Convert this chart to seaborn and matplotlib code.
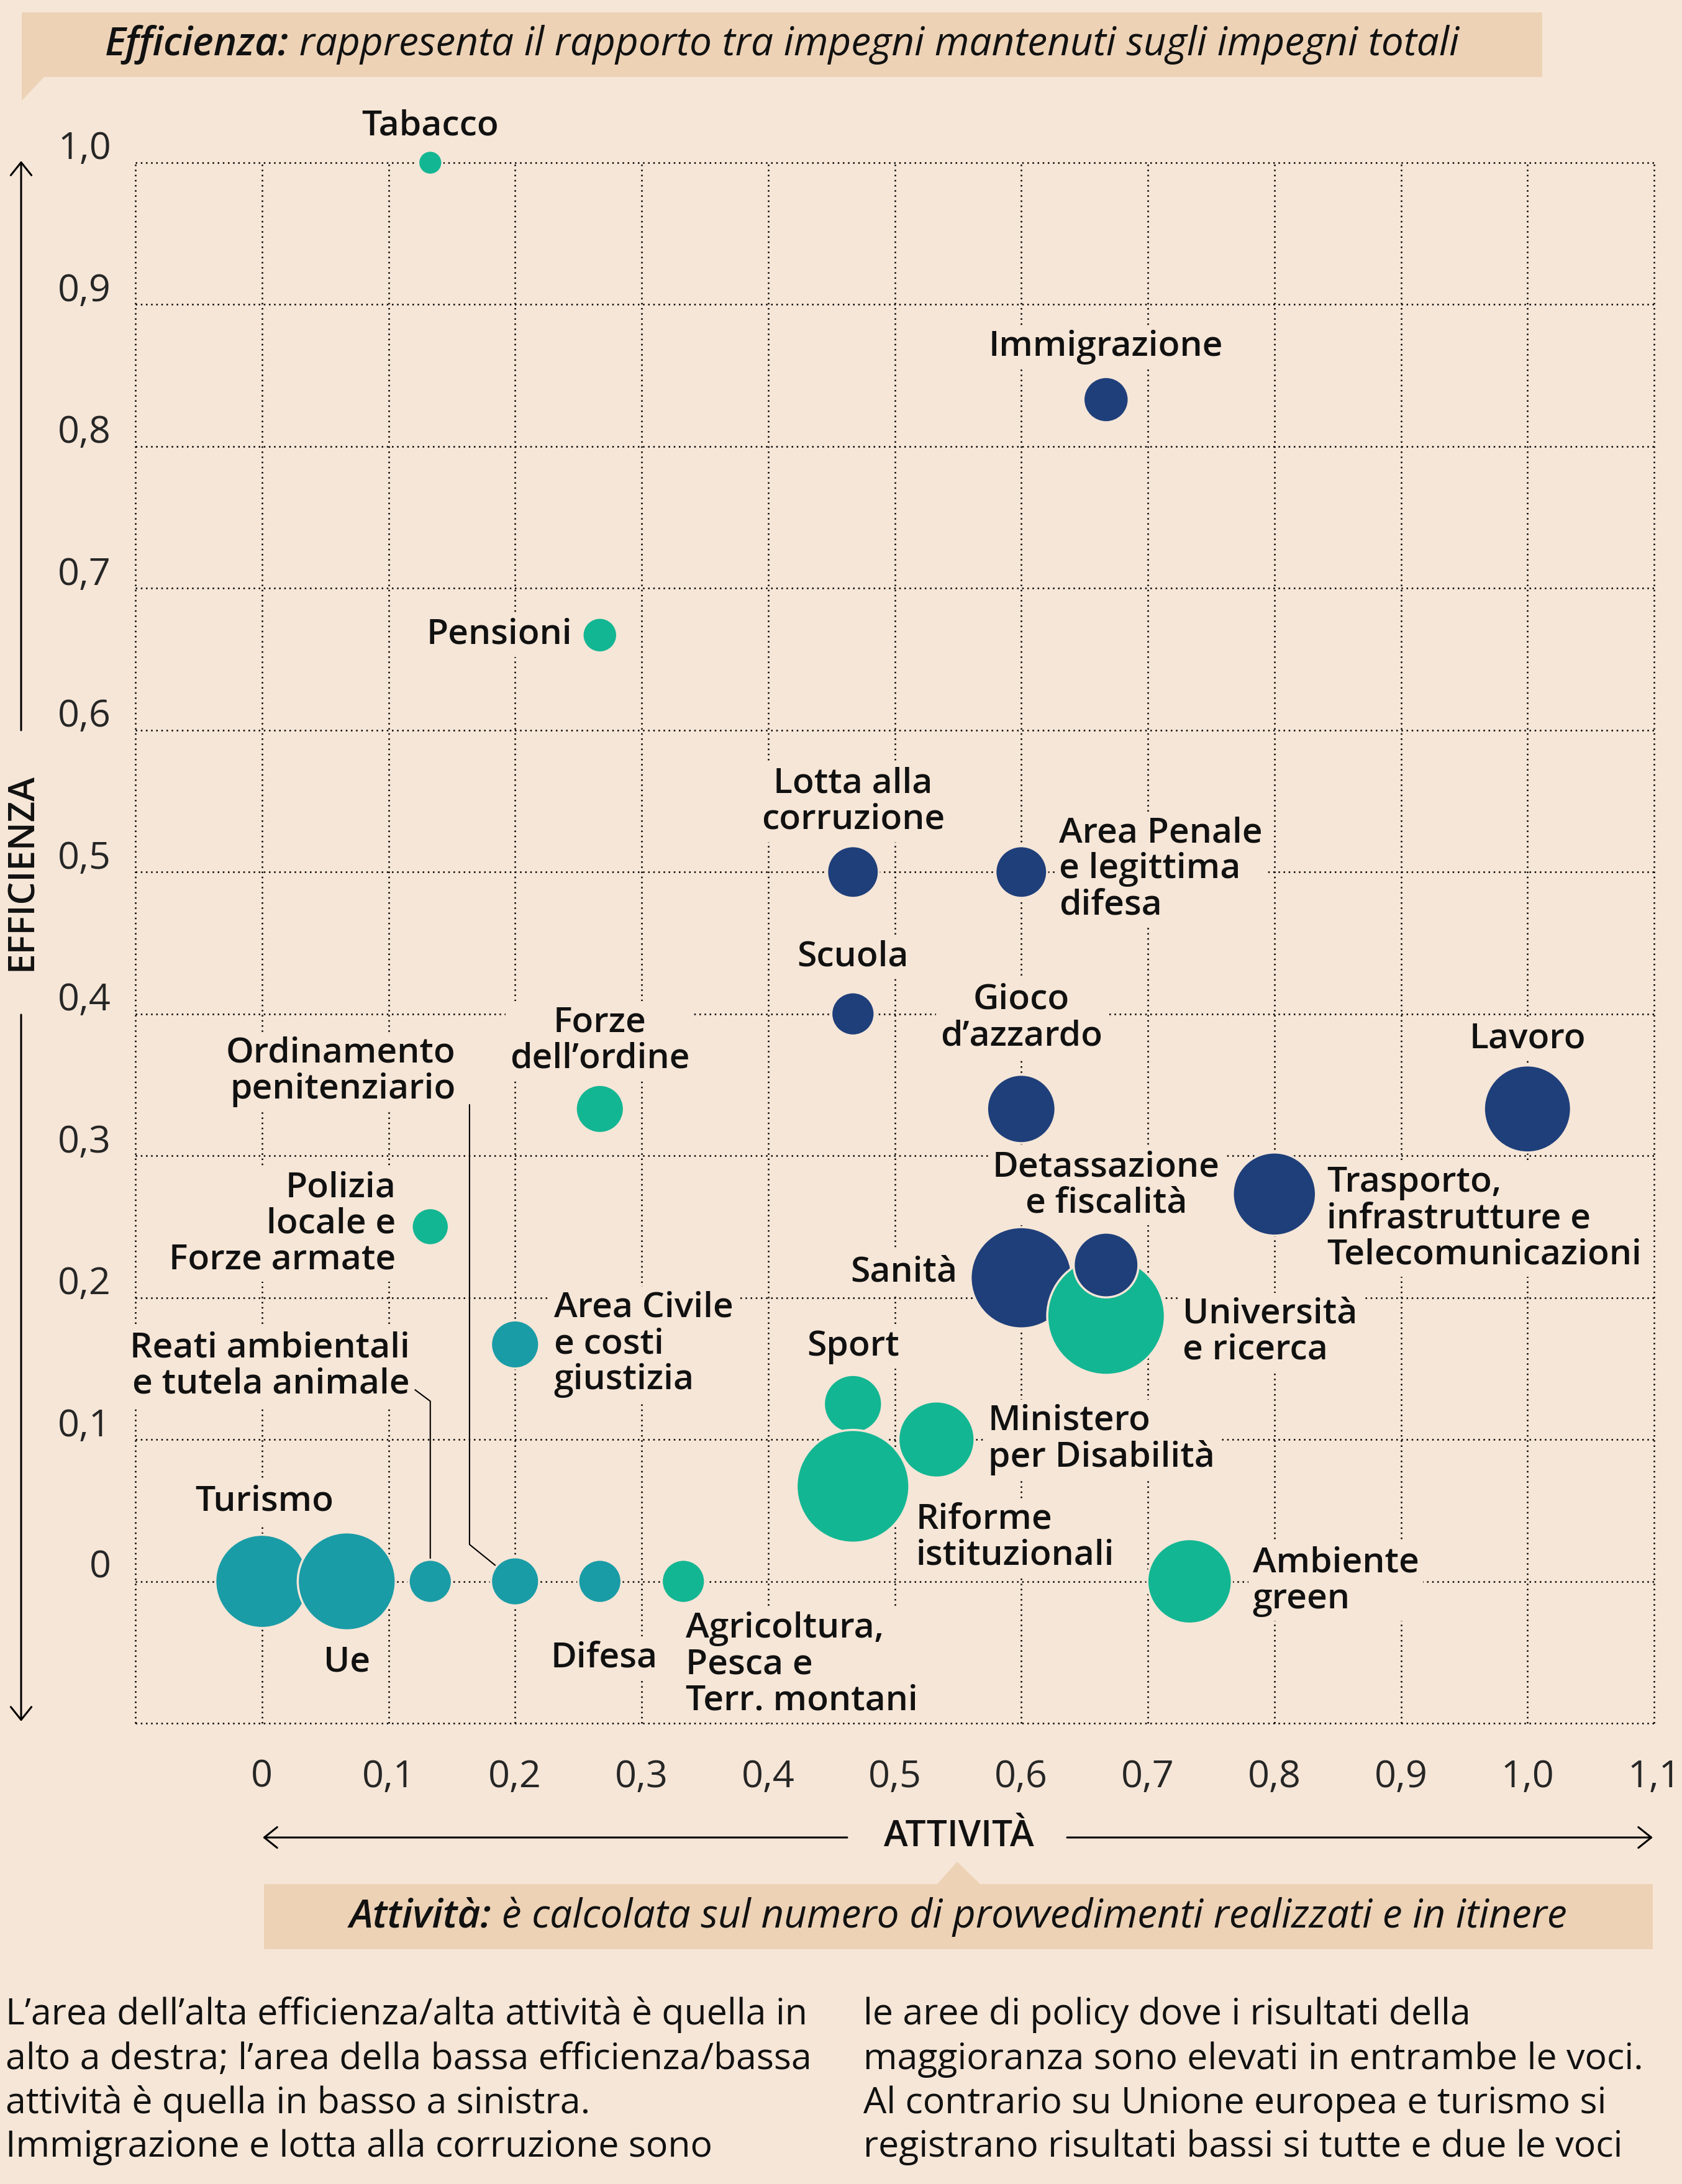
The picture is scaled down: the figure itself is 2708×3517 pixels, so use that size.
import numpy as np
import pandas as pd
import seaborn as sns
import matplotlib.pyplot as plt
import matplotlib.transforms as mtransforms
from matplotlib.patches import Polygon, Rectangle, FancyArrowPatch
from matplotlib.ticker import FixedLocator, FuncFormatter

# dati (ordine = ordine di disegno)
temi = ["Tabacco", "Immigrazione", "Pensioni", "Lotta alla corruzione", "Area Penale",
        "Scuola", "Gioco d'azzardo", "Lavoro", "Trasporto", "Sanità", "Università",
        "Detassazione", "Forze dell'ordine", "Polizia locale", "Area Civile", "Sport",
        "Ministero Disabilità", "Riforme istituzionali", "Ambiente green", "Turismo", "Ue",
        "Reati ambientali", "Ordinamento penitenziario", "Difesa", "Agricoltura"]
attivita = [0.133, 0.667, 0.267, 0.467, 0.6, 0.467, 0.6, 1.0, 0.8, 0.6, 0.667, 0.667,
            0.267, 0.133, 0.2, 0.467, 0.533, 0.467, 0.733, 0.0, 0.067, 0.133, 0.2, 0.267, 0.333]
efficienza = [1.0, 0.833, 0.667, 0.5, 0.5, 0.4, 0.333, 0.333, 0.273, 0.214, 0.187, 0.223,
              0.333, 0.25, 0.167, 0.125, 0.1, 0.067, 0.0, 0.0, 0.0, 0.0, 0.0, 0.0, 0.0]
impegni = [1.3, 4.6, 2.7, 6, 6, 4.2, 10.5, 17, 15.5, 23, 31, 9.4,
           5.2, 3.1, 5.2, 7.6, 13, 28.5, 16, 19.5, 21.5, 4.2, 5.2, 4.2, 4.2]
gruppo = ["verde", "blu", "verde", "blu", "blu", "blu", "blu", "blu", "blu", "blu", "verde", "blu",
          "verde", "verde", "petrolio", "verde", "verde", "verde", "verde", "petrolio", "petrolio",
          "petrolio", "petrolio", "petrolio", "verde"]
etichette = ["Tabacco", "Immigrazione", "Pensioni", "Lotta alla\ncorruzione",
             "Area Penale\ne legittima\ndifesa", "Scuola", "Gioco\nd’azzardo", "Lavoro",
             "Trasporto,\ninfrastrutture e\nTelecomunicazioni", "Sanità", "Università\ne ricerca",
             "Detassazione\ne fiscalità", "Forze\ndell’ordine", "Polizia\nlocale e\nForze armate",
             "Area Civile\ne costi\ngiustizia", "Sport", "Ministero\nper Disabilità",
             "Riforme\nistituzionali", "Ambiente\ngreen", "Turismo", "Ue",
             "Reati ambientali\ne tutela animale", "Ordinamento\npenitenziario", "Difesa",
             "Agricoltura,\nPesca e\nTerr. montani"]

# posizione delle etichette: scostamento in punti dal centro della bolla + allineamento
pos_etichette = [(0, 42, "center"), (0, 61, "center"), (-32, 0, "right"), (0, 81, "center"),
                 (44, 3, "left"), (0, 66, "center"), (0, 105, "center"), (0, 81, "center"),
                 (61, -29, "left"), (-74, 6, "right"), (89, -19, "left"), (0, 92, "center"),
                 (0, 79, "center"), (-40, 3, "right"), (45, 0, "left"), (0, 66, "center"),
                 (60, 0, "left"), (73, -60, "left"), (73, 0, "left"), (3, 92, "center"),
                 (0, -94, "center"), (-24, 249, "right"), (-69, 591, "right"), (5, -89, "center"),
                 (3, -97, "left")]

nota_sx = ["L’area dell’alta efficienza/alta attività è quella in",
           "alto a destra; l’area della bassa efficienza/bassa",
           "attività è quella in basso a sinistra.",
           "Immigrazione e lotta alla corruzione sono"]
nota_dx = ["le aree di policy dove i risultati della",
           "maggioranza sono elevati in entrambe le voci.",
           "Al contrario su Unione europea e turismo si",
           "registrano risultati bassi si tutte e due le voci"]

colori = {"blu": "#1f3f7a", "verde": "#13b693", "petrolio": "#1a9ca7"}
sfondo = "#f6e6d7"
fascia = "#edd2b6"

sns.set_style("white")
plt.rcParams["font.family"] = ["Open Sans", "DejaVu Sans"]
plt.rcParams["text.color"] = "#111111"

df = pd.DataFrame({"tema": temi, "attivita": attivita, "efficienza": efficienza,
                   "impegni": impegni, "gruppo": gruppo})

W, H = 2708, 3517
fig = plt.figure(figsize=(W / 100, H / 100), dpi=100, facecolor=sfondo)
ax = fig.add_axes([218 / W, 1 - 2775 / H, (2663 - 218) / W, (2775 - 262) / H])
ax.set_facecolor(sfondo)

K = 600  # punti^2 per unità di impegno
sns.scatterplot(data=df, x="attivita", y="efficienza", hue="gruppo", palette=colori,
                size="impegni", sizes=(0, K * max(impegni)), size_norm=(0, max(impegni)),
                edgecolor=sfondo, linewidth=2.5, alpha=1, legend=False, ax=ax, zorder=5,
                clip_on=False)

ax.set_xlim(-0.1, 1.1)
ax.set_ylim(-0.1, 1.0)
ax.xaxis.set_major_locator(FixedLocator(np.round(np.arange(-0.1, 1.15, 0.1), 1)))
ax.yaxis.set_major_locator(FixedLocator(np.round(np.arange(-0.1, 1.05, 0.1), 1)))


def fmt(v, p):
    if v < -0.05:
        return ""
    if abs(v) < 1e-9:
        return "0"
    return f"{v:.1f}".replace(".", ",")


ax.xaxis.set_major_formatter(FuncFormatter(fmt))
ax.yaxis.set_major_formatter(FuncFormatter(fmt))
ax.tick_params(axis="x", length=0, pad=41, labelsize=44)
ax.tick_params(axis="y", length=0, pad=28, labelsize=44)
ax.grid(True, color="black", linestyle=(0, (1, 2.3)), linewidth=1.8)
ax.set_axisbelow(True)
for gl in ax.get_xgridlines() + ax.get_ygridlines():
    gl.set_clip_on(False)
for s in ax.spines.values():
    s.set_visible(False)
ax.set_xlabel("")
ax.set_ylabel("")

su = mtransforms.ScaledTranslation(0, 4 / 72, fig.dpi_scale_trans)
for t in ax.yaxis.get_major_ticks():
    t.label1.set_verticalalignment("baseline")
    t.label1.set_transform(t.label1.get_transform() + su)

# etichette delle bolle
for i, r in df.iterrows():
    dx, dy, ha = pos_etichette[i]
    ax.annotate(etichette[i], (r.attivita, r.efficienza), xytext=(dx, dy),
                textcoords="offset points", ha=ha, va="center", multialignment=ha,
                fontsize=41, fontweight=600, linespacing=1.05, zorder=4,
                bbox=dict(boxstyle="square,pad=0.12", fc=sfondo, ec="none"))

# linee di richiamo
i = temi.index("Reati ambientali")
xr, yr = attivita[i], efficienza[i]
ax.plot([xr - 0.012, xr, xr], [yr + 0.135, yr + 0.127, yr], color="black", lw=1.5, zorder=3)
i = temi.index("Ordinamento penitenziario")
xo, yo = attivita[i], efficienza[i]
ax.plot([xo - 0.036, xo - 0.036, xo], [yo + 0.336, yo + 0.026, yo], color="black", lw=1.5, zorder=3)


def fx(x):
    return x / W


def fy(y):
    return 1 - y / H


# fasce esplicative
fig.add_artist(Rectangle((fx(35), fy(124)), fx(2483 - 35), (124 - 20) / H,
                         transform=fig.transFigure, fc=fascia, ec="none"))
fig.add_artist(Polygon([(fx(35), fy(123)), (fx(72), fy(123)), (fx(35), fy(162))],
                       closed=True, transform=fig.transFigure, fc=fascia, ec="none"))
fig.add_artist(Rectangle((fx(425), fy(3139)), fx(2661 - 425), (3139 - 3034) / H,
                         transform=fig.transFigure, fc=fascia, ec="none"))
fig.add_artist(Polygon([(fx(1508), fy(3035)), (fx(1579), fy(3035)), (fx(1541), fy(2998))],
                       closed=True, transform=fig.transFigure, fc=fascia, ec="none"))

renderer = fig.canvas.get_renderer()


def testo_misto(xc, y, p1, p2, size):
    t1 = fig.text(0, fy(y), p1, fontsize=size, fontweight=600, style="italic", va="center")
    t2 = fig.text(0, fy(y), p2, fontsize=size, style="italic", va="center")
    w1 = t1.get_window_extent(renderer).width
    w2 = t2.get_window_extent(renderer).width
    x0 = xc - (w1 + w2) / 2
    t1.set_x(fx(x0))
    t2.set_x(fx(x0 + w1))


testo_misto(1259, 72, "Efficienza:", " rappresenta il rapporto tra impegni mantenuti sugli impegni totali", 46)
testo_misto(1543, 3087, "Attività:", " è calcolata sul numero di provvedimenti realizzati e in itinere", 46)

# assi con frecce
stile = "->,head_length=0.5,head_width=0.4"


def freccia(x0, y0, x1, y1):
    fig.add_artist(FancyArrowPatch((fx(x0), fy(y0)), (fx(x1), fy(y1)), transform=fig.transFigure,
                                   arrowstyle=stile, mutation_scale=30, lw=2.2, color="black",
                                   shrinkA=0, shrinkB=0))


freccia(34, 1176, 34, 259)
freccia(34, 1634, 34, 2772)
freccia(1364, 2959, 423, 2959)
freccia(1718, 2959, 2661, 2959)
fig.text(fx(36), fy(1404), "EFFICIENZA", rotation=90, ha="center", va="center",
         fontsize=42, fontweight=600)
fig.text(fx(1544), fy(2958), "ATTIVITÀ", ha="center", va="center", fontsize=42, fontweight=600)

# nota in basso
basi = [3260, 3332, 3403, 3473]
for riga, b in zip(nota_sx, basi):
    fig.text(fx(9), fy(b), riga, fontsize=42.5, va="baseline", ha="left")
for riga, b in zip(nota_dx, basi):
    fig.text(fx(1390), fy(b), riga, fontsize=42.5, va="baseline", ha="left")

fig.savefig("out.png", dpi=100, facecolor=sfondo)
